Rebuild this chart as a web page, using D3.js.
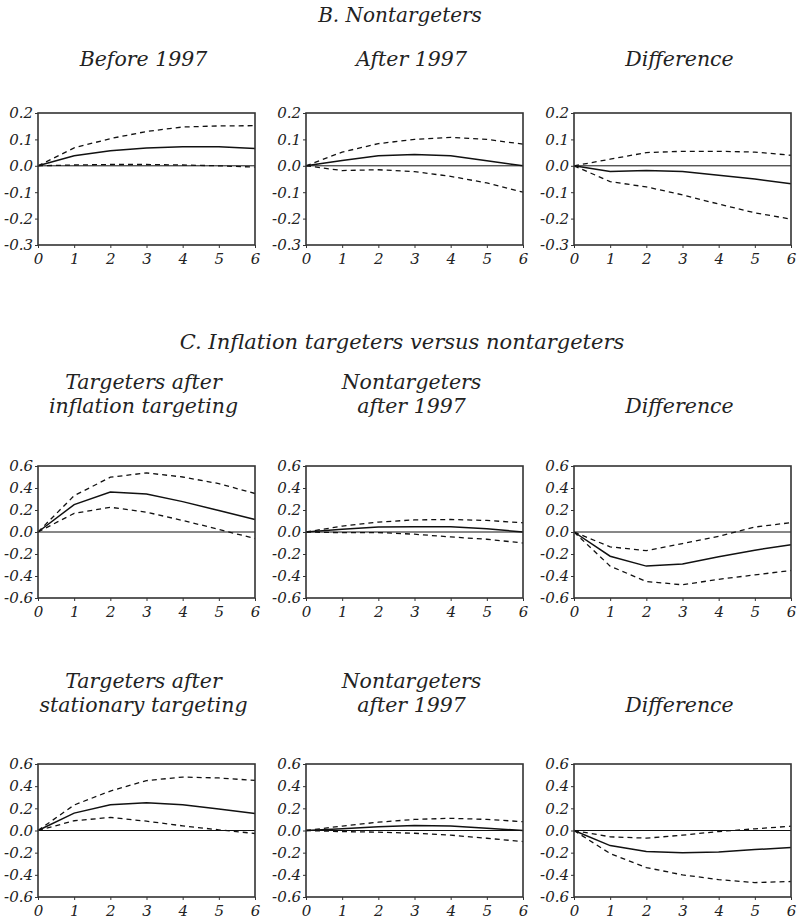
<!DOCTYPE html>
<html>
<head>
<meta charset="utf-8">
<script src="https://cdn.jsdelivr.net/npm/d3@7"></script>
<style>
  body { margin: 0; background: #fff; }
  svg text { font-family: "DejaVu Serif", serif; font-style: italic; fill: #222; }
</style>
</head>
<body>
<svg id="chart" width="797" height="919"></svg>
<script>
// ---------- data ----------
const horizons = [0, 1, 2, 3, 4, 5, 6];
const xTickLabels = ["0", "1", "2", "3", "4", "5", "6"];

const sectionTitles = ["B. Nontargeters", "C. Inflation targeters versus nontargeters"];

const topTicks = [0.2, 0.1, 0.0, -0.1, -0.2, -0.3];
const lowTicks = [0.6, 0.4, 0.2, 0.0, -0.2, -0.4, -0.6];

// Row B: Nontargeters
const bBeforeTitle = ["Before 1997"];
const bBeforeMid = [0, 0.038, 0.057, 0.067, 0.072, 0.072, 0.066];
const bBeforeUp  = [0, 0.068, 0.103, 0.130, 0.147, 0.151, 0.152];
const bBeforeLo  = [0, 0.003, 0.005, 0.005, 0.003, 0.000, -0.005];

const bAfterTitle = ["After 1997"];
const bAfterMid = [0, 0.020, 0.038, 0.043, 0.038, 0.019, 0.000];
const bAfterUp  = [0, 0.052, 0.084, 0.100, 0.108, 0.100, 0.082];
const bAfterLo  = [0, -0.018, -0.015, -0.022, -0.040, -0.065, -0.100];

const bDiffTitle = ["Difference"];
const bDiffMid = [0, -0.022, -0.018, -0.022, -0.036, -0.050, -0.068];
const bDiffUp  = [0, 0.025, 0.050, 0.055, 0.055, 0.052, 0.040];
const bDiffLo  = [0, -0.060, -0.080, -0.110, -0.145, -0.178, -0.202];

// Row C1: inflation targeting
const c1TargTitle = ["Targeters after", "inflation targeting"];
const c1TargMid = [0, 0.249, 0.363, 0.345, 0.276, 0.195, 0.114];
const c1TargUp  = [0, 0.330, 0.498, 0.537, 0.500, 0.440, 0.350];
const c1TargLo  = [0, 0.170, 0.225, 0.180, 0.105, 0.024, -0.060];

const c1NonTitle = ["Nontargeters", "after 1997"];
const c1NonMid = [0, 0.024, 0.045, 0.048, 0.048, 0.030, 0.000];
const c1NonUp  = [0, 0.054, 0.090, 0.110, 0.114, 0.105, 0.084];
const c1NonLo  = [0, -0.006, -0.005, -0.020, -0.045, -0.066, -0.100];

const c1DiffTitle = ["", "Difference"];
const c1DiffMid = [0, -0.220, -0.310, -0.290, -0.225, -0.165, -0.115];
const c1DiffUp  = [0, -0.135, -0.170, -0.105, -0.040, 0.045, 0.085];
const c1DiffLo  = [0, -0.310, -0.450, -0.480, -0.430, -0.390, -0.350];

// Row C2: stationary targeting
const c2TargTitle = ["Targeters after", "stationary targeting"];
const c2TargMid = [0, 0.157, 0.232, 0.250, 0.232, 0.193, 0.154];
const c2TargUp  = [0, 0.230, 0.356, 0.450, 0.482, 0.474, 0.452];
const c2TargLo  = [0, 0.088, 0.118, 0.084, 0.042, 0.006, -0.027];

const c2NonTitle = ["Nontargeters", "after 1997"];
const c2NonMid = [0, 0.015, 0.033, 0.045, 0.040, 0.020, 0.000];
const c2NonUp  = [0, 0.040, 0.075, 0.100, 0.110, 0.100, 0.080];
const c2NonLo  = [0, -0.010, -0.015, -0.025, -0.042, -0.070, -0.100];

const c2DiffTitle = ["", "Difference"];
const c2DiffMid = [0, -0.136, -0.190, -0.200, -0.193, -0.172, -0.154];
const c2DiffUp  = [0, -0.057, -0.069, -0.042, -0.009, 0.015, 0.039];
const c2DiffLo  = [0, -0.208, -0.335, -0.400, -0.443, -0.470, -0.460];

// ---------- layout ----------
const svg = d3.select("#chart");
const colLeft = [38, 306, 574];
const plotW = 217;
const rows = [
  { top: 113, bottom: 245, domain: [-0.3, 0.2], ticks: topTicks, titleBase: [66],
    panels: [[bBeforeTitle, bBeforeMid, bBeforeUp, bBeforeLo],
             [bAfterTitle, bAfterMid, bAfterUp, bAfterLo],
             [bDiffTitle, bDiffMid, bDiffUp, bDiffLo]] },
  { top: 466, bottom: 598, domain: [-0.6, 0.6], ticks: lowTicks, titleBase: [389, 413],
    panels: [[c1TargTitle, c1TargMid, c1TargUp, c1TargLo],
             [c1NonTitle, c1NonMid, c1NonUp, c1NonLo],
             [c1DiffTitle, c1DiffMid, c1DiffUp, c1DiffLo]] },
  { top: 764, bottom: 897, domain: [-0.6, 0.6], ticks: lowTicks, titleBase: [688, 712],
    panels: [[c2TargTitle, c2TargMid, c2TargUp, c2TargLo],
             [c2NonTitle, c2NonMid, c2NonUp, c2NonLo],
             [c2DiffTitle, c2DiffMid, c2DiffUp, c2DiffLo]] }
];

svg.append("text").attr("x", 400).attr("y", 22).attr("text-anchor", "middle")
  .attr("font-size", 20).text(sectionTitles[0]);
svg.append("text").attr("x", 402).attr("y", 349).attr("text-anchor", "middle")
  .attr("font-size", 21).text(sectionTitles[1]);

rows.forEach(row => {
  const y = d3.scaleLinear().domain(row.domain).range([row.bottom, row.top]);
  row.panels.forEach((p, i) => {
    const [title, mid, up, lo] = p;
    const x = d3.scaleLinear().domain([0, 6]).range([colLeft[i], colLeft[i] + plotW]);
    const g = svg.append("g");

    // title
    title.forEach((t, k) => {
      if (!t) return;
      g.append("text").attr("x", colLeft[i] + plotW / 2 - 3).attr("y", row.titleBase[k])
        .attr("text-anchor", "middle").attr("font-size", 20.5).text(t);
    });

    // zero line
    g.append("line").attr("x1", x(0)).attr("x2", x(6)).attr("y1", y(0)).attr("y2", y(0))
      .attr("stroke", "#111").attr("stroke-width", 1);

    const line = d3.line().x((d, j) => x(horizons[j])).y(d => y(d));
    g.append("path").datum(up).attr("d", line).attr("fill", "none")
      .attr("stroke", "#111").attr("stroke-width", 1.3).attr("stroke-dasharray", "5,4");
    g.append("path").datum(lo).attr("d", line).attr("fill", "none")
      .attr("stroke", "#111").attr("stroke-width", 1.3).attr("stroke-dasharray", "5,4");
    g.append("path").datum(mid).attr("d", line).attr("fill", "none")
      .attr("stroke", "#111").attr("stroke-width", 1.5);

    // frame
    g.append("rect").attr("x", x(0)).attr("y", row.top).attr("width", plotW)
      .attr("height", row.bottom - row.top).attr("fill", "none")
      .attr("stroke", "#333").attr("stroke-width", 1.6);

    // axes
    const ya = g.append("g").attr("transform", `translate(${x(0)},0)`)
      .call(d3.axisLeft(y).tickValues(row.ticks).tickSize(3).tickPadding(2)
        .tickFormat(d => d.toFixed(1)));
    ya.select(".domain").remove();
    ya.selectAll("text").attr("font-size", 15).attr("font-family", "DejaVu Serif")
      .attr("font-style", "italic").attr("fill", "#222");
    ya.selectAll("line").attr("stroke", "#333");

    const xa = g.append("g").attr("transform", `translate(0,${row.bottom})`)
      .call(d3.axisBottom(x).tickValues(horizons).tickSize(3).tickPadding(5)
        .tickFormat((d, j) => xTickLabels[j]));
    xa.select(".domain").remove();
    xa.selectAll("text").attr("font-size", 15).attr("font-family", "DejaVu Serif")
      .attr("font-style", "italic").attr("fill", "#222");
    xa.selectAll("line").attr("stroke", "#333");
  });
});
</script>
</body>
</html>
